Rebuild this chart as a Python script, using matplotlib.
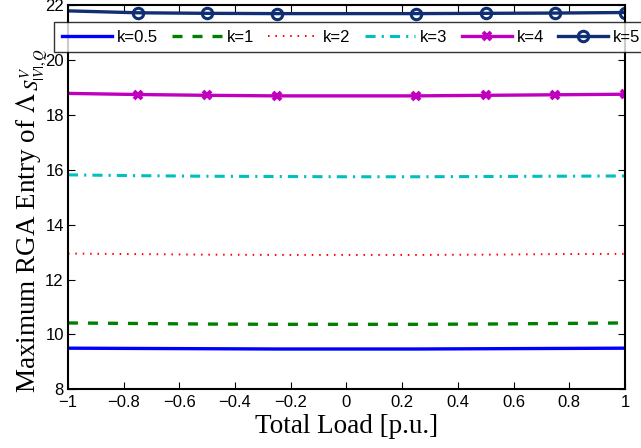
import numpy as np
import matplotlib
matplotlib.use("Agg")
import matplotlib.pyplot as plt

# ─── data ───────────────────────────────────────────────────────────────────
load = [-1.0, -0.75, -0.5, -0.25, 0.0, 0.25, 0.5, 0.75, 1.0]

rga_k05 = [9.50, 9.49, 9.48, 9.47, 9.47, 9.47, 9.48, 9.49, 9.50]
rga_k1 = [10.42, 10.40, 10.38, 10.37, 10.37, 10.37, 10.38, 10.40, 10.42]
rga_k2 = [12.95, 12.93, 12.91, 12.90, 12.90, 12.90, 12.91, 12.93, 12.94]
rga_k3 = [15.82, 15.79, 15.77, 15.76, 15.75, 15.75, 15.76, 15.77, 15.78]
rga_k4 = [18.79, 18.75, 18.72, 18.70, 18.70, 18.70, 18.72, 18.74, 18.76]
rga_k5 = [21.80, 21.73, 21.71, 21.70, 21.70, 21.70, 21.71, 21.72, 21.74]

labels = ["k=0.5", "k=1", "k=2", "k=3", "k=4", "k=5"]

xticks = [-1, -0.8, -0.6, -0.4, -0.2, 0, 0.2, 0.4, 0.6, 0.8, 1]
xticklabels = ["\u22121", "\u22120.8", "\u22120.6", "\u22120.4", "\u22120.2",
               "0", "0.2", "0.4", "0.6", "0.8", "1"]
yticks = [8, 10, 12, 14, 16, 18, 20, 22]

# ─── style ───────────────────────────────────────────────────────────────────
plt.rcParams['font.family'] = ['Liberation Sans', 'DejaVu Sans']
plt.rcParams['mathtext.fontset'] = 'stix'

fig = plt.figure(figsize=(6.41, 4.48), dpi=100)
ax = fig.add_axes([0.106, 0.131, 0.869, 0.857])

mark_idx = [1, 2, 3, 5, 6, 7, 8]

ax.plot(load, rga_k05, color="#0000ff", lw=2.4, ls="-", label=labels[0])
ax.plot(load, rga_k1, color="#008000", lw=2.4, ls=(0, (3, 3)), label=labels[1])
ax.plot(load, rga_k2, color="#ff0000", lw=1.4, ls=(0, (0.8, 3.0)), label=labels[2])
ax.plot(load, rga_k3, color="#00bfbf", lw=2.2, ls=(0, (3.3, 2, 0.7, 2)), label=labels[3])
ax.plot(load, rga_k4, color="#bf00bf", lw=2.4, marker="x", ms=6, mew=2.8,
        markevery=mark_idx, label=labels[4])
ax.plot(load, rga_k5, color="#102e74", lw=2.4, marker="o", ms=7.5, mew=2.2,
        mfc="none", markevery=mark_idx, label=labels[5])

ax.set_xlim(-1, 1)
ax.set_ylim(8, 22)
ax.set_xticks(xticks)
ax.set_xticklabels(xticklabels)
ax.set_yticks(yticks)
ax.tick_params(direction="in", top=True, right=True, length=5, width=0.8,
               labelsize=12)
ax.tick_params(axis="x", pad=4)
ax.tick_params(axis="y", pad=3)
for spine in ax.spines.values():
    spine.set_linewidth(1.5)

ax.set_xlabel("Total Load [p.u.]", family="Liberation Serif", fontsize=19.5,
              labelpad=3)

# y label: main text + larger subscript group, as in the reference
ylab_main = fig.text(35 / 641, 1 - 393 / 448, r"Maximum RGA Entry of $\Lambda$",
                     family="Liberation Serif", fontsize=19.5, rotation=90,
                     rotation_mode="anchor", ha="left", va="baseline")
fig.canvas.draw()
bb = ylab_main.get_window_extent(fig.canvas.get_renderer())
top_px = bb.y1
fig.text((35 + 5) / 641, (top_px + 1) / fig.bbox.height, r"$S^V_{|V|,Q}$",
         family="Liberation Serif", fontsize=15, rotation=90,
         rotation_mode="anchor", ha="left", va="baseline")

leg = ax.legend(loc="upper left", bbox_to_anchor=(54 / 641, 1 - 22 / 448),
                bbox_transform=fig.transFigure, ncol=6, fontsize=12,
                frameon=True, fancybox=False, edgecolor="black",
                handlelength=3.0, handletextpad=0.3, columnspacing=0.85,
                borderpad=0.45, borderaxespad=0)
leg.get_frame().set_linewidth(1.0)

fig.savefig("out.png", dpi=100)
